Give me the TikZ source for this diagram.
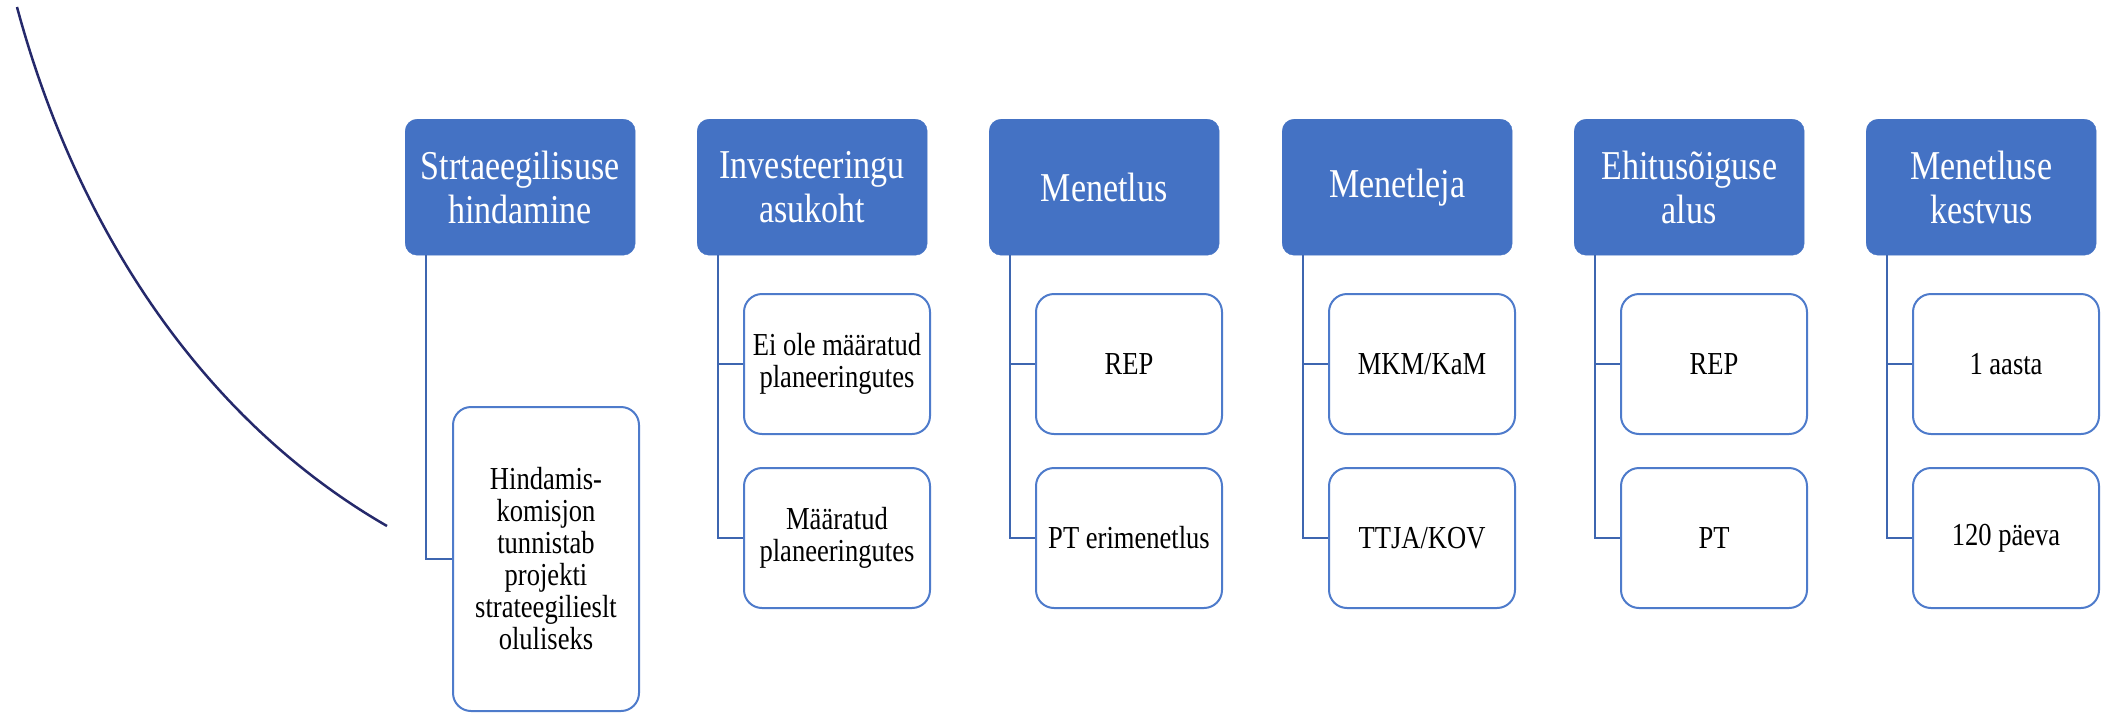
\documentclass[tikz,border=0pt]{standalone}
\usepackage{fontspec}
\setmainfont{Liberation Serif}
\definecolor{hdrblue}{HTML}{4472C4}
\definecolor{boxblue}{HTML}{4E7BCB}
\definecolor{lineblue}{HTML}{3E66B0}
\definecolor{arcnavy}{HTML}{25296B}
\newcommand{\nar}[1]{\scalebox{0.83}[1]{#1}}
\begin{document}
\begin{tikzpicture}[x=1pt,y=-1pt,
  hdr/.style={draw=hdrblue, fill=hdrblue, rounded corners=12pt, minimum width=230pt, minimum height=136pt, anchor=north west, inner sep=0pt, align=center, text=white, font=\rmfamily\fontsize{41}{44}\selectfont},
  child/.style={draw=boxblue, line width=2pt, fill=white, rounded corners=18pt, minimum width=186pt, anchor=north west, inner sep=0pt, align=center, font=\rmfamily\fontsize{32}{32}\selectfont},
  small/.style={child, minimum height=140pt},
  tall/.style={child, minimum height=304pt},
  conn/.style={draw=lineblue, line width=2.5pt},
  arcline/.style={draw=arcnavy, line width=2.5pt}]
\useasboundingbox (0,0) rectangle (2105,713);

% decorative arc
\coordinate (arcS) at (17,7);
\coordinate (arcE) at (387,526);
\draw[arcline] (arcS) .. controls (74,219) and (196,416) .. (arcE);

% headers
\node[hdr] (h1) at (405,119) {\nar{Strtaeegilisuse}\\\nar{hindamine}};
\node[hdr] (h2) at (697,119) {\nar{Investeeringu}\\\nar{asukoht}};
\node[hdr] (h3) at (989,119) {\nar{Menetlus}};
\node[hdr] (h4) at (1282,119) {\nar{Menetleja}};
\node[hdr] (h5) at (1574,119) {\nar{Ehitusõiguse}\\\nar{alus}};
\node[hdr] (h6) at (1866,119) {\nar{Menetluse}\\\nar{kestvus}};

% children
\node[tall] (c11) at (452,406) {\nar{Hindamis-}\\\nar{komisjon}\\\nar{tunnistab}\\\nar{projekti}\\\nar{strateegilieslt}\\\nar{oluliseks}};

\node[small] (c21) at (743,293) {\nar{Ei ole määratud}\\\nar{planeeringutes}};
\node[small] (c22) at (743,467) {\nar{Määratud}\\\nar{planeeringutes}};

\node[small] (c31) at (1035,293) {\nar{REP}};
\node[small] (c32) at (1035,467) {\nar{PT erimenetlus}};

\node[small] (c41) at (1328,293) {\nar{MKM/KaM}};
\node[small] (c42) at (1328,467) {\nar{TTJA/KOV}};

\node[small] (c51) at (1620,293) {\nar{REP}};
\node[small] (c52) at (1620,467) {\nar{PT}};

\node[small] (c61) at (1912,293) {\nar{1 aasta}};
\node[small] (c62) at (1912,467) {\nar{120 päeva}};

% connectors
\draw[conn] ([xshift=21pt]h1.south west) |- (c11.west);
\foreach \i in {2,...,6} {
  \draw[conn] ([xshift=21pt]h\i.south west) |- (c\i1.west);
  \draw[conn] ([xshift=21pt]h\i.south west) |- (c\i2.west);
}
\end{tikzpicture}
\end{document}
